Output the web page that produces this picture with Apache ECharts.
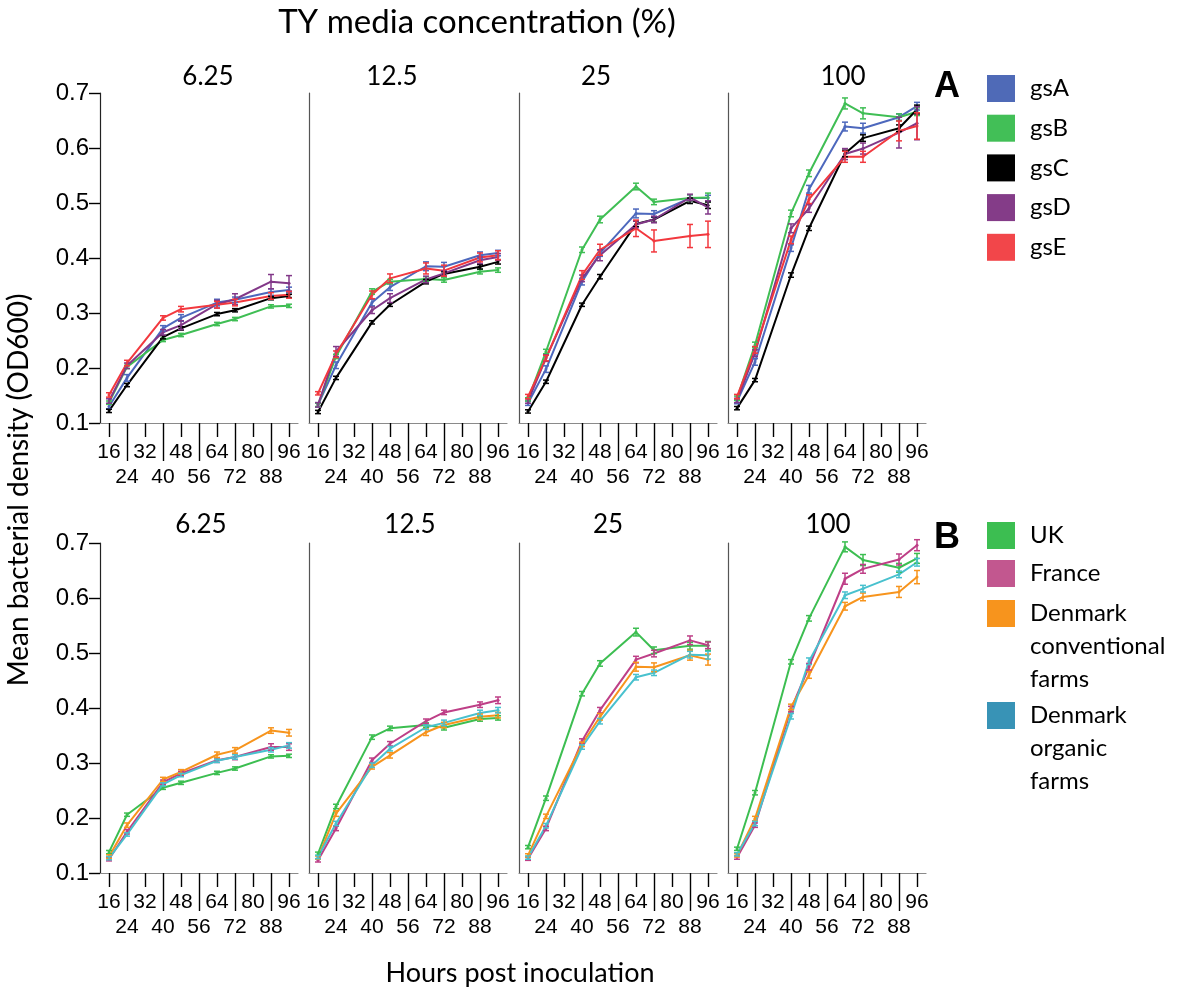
<!DOCTYPE html>
<html>
<head>
<meta charset="utf-8">
<script src="https://cdn.jsdelivr.net/npm/echarts@6/dist/echarts.min.js"></script>
<style>
  html, body { margin: 0; padding: 0; background: #fff; }
  #chart { width: 1179px; height: 992px; }
</style>
</head>
<body>
<div id="chart"></div>
<script>
// Sampling times (hours post inoculation) and axis tick values
const hours = [16, 24, 40, 48, 64, 72, 88, 96];
const xShortTicks = [16, 32, 48, 64, 80, 96];
const xLongTicks = [24, 40, 56, 72, 88];
const concentrations = ['6.25', '12.5', '25', '100'];

// Panel A: genotype groups; one row per TY concentration (6.25, 12.5, 25, 100)
const groupsA = ['gsA', 'gsB', 'gsC', 'gsD', 'gsE'];
const gsA_mean = [
  [0.130, 0.182, 0.272, 0.291, 0.319, 0.324, 0.338, 0.342],
  [0.133, 0.205, 0.319, 0.347, 0.385, 0.384, 0.405, 0.409],
  [0.136, 0.198, 0.357, 0.409, 0.481, 0.480, 0.509, 0.509],
  [0.139, 0.211, 0.418, 0.525, 0.639, 0.636, 0.656, 0.676]
];
const gsB_mean = [
  [0.137, 0.202, 0.251, 0.260, 0.280, 0.289, 0.312, 0.313],
  [0.133, 0.221, 0.339, 0.357, 0.362, 0.360, 0.375, 0.378],
  [0.143, 0.230, 0.415, 0.470, 0.530, 0.502, 0.509, 0.510],
  [0.145, 0.242, 0.481, 0.554, 0.681, 0.663, 0.656, 0.666]
];
const gsC_mean = [
  [0.122, 0.169, 0.256, 0.272, 0.298, 0.305, 0.327, 0.331],
  [0.120, 0.182, 0.283, 0.315, 0.357, 0.371, 0.384, 0.393],
  [0.121, 0.175, 0.315, 0.366, 0.462, 0.470, 0.504, 0.496],
  [0.127, 0.178, 0.369, 0.454, 0.590, 0.618, 0.636, 0.670]
];
const gsD_mean = [
  [0.140, 0.204, 0.265, 0.278, 0.316, 0.325, 0.357, 0.354],
  [0.133, 0.230, 0.305, 0.327, 0.361, 0.372, 0.396, 0.402],
  [0.140, 0.218, 0.363, 0.405, 0.461, 0.470, 0.510, 0.492],
  [0.141, 0.227, 0.454, 0.490, 0.589, 0.599, 0.628, 0.645]
];
const gsE_mean = [
  [0.151, 0.209, 0.291, 0.307, 0.315, 0.319, 0.331, 0.333],
  [0.154, 0.225, 0.333, 0.363, 0.381, 0.377, 0.401, 0.405],
  [0.148, 0.218, 0.369, 0.415, 0.454, 0.431, 0.440, 0.443],
  [0.148, 0.233, 0.433, 0.507, 0.584, 0.584, 0.631, 0.640]
];
const gsA_err = [
  [0.004, 0.006, 0.005, 0.006, 0.006, 0.005, 0.006, 0.005],
  [0.004, 0.006, 0.006, 0.006, 0.008, 0.008, 0.006, 0.005],
  [0.004, 0.006, 0.006, 0.006, 0.008, 0.006, 0.006, 0.005],
  [0.004, 0.006, 0.006, 0.007, 0.008, 0.009, 0.006, 0.007]
];
const gsB_err = [
  [0.003, 0.003, 0.003, 0.003, 0.003, 0.003, 0.003, 0.003],
  [0.003, 0.004, 0.005, 0.004, 0.004, 0.004, 0.004, 0.004],
  [0.003, 0.004, 0.005, 0.006, 0.006, 0.005, 0.006, 0.008],
  [0.004, 0.005, 0.006, 0.006, 0.010, 0.010, 0.006, 0.007]
];
const gsC_err = [
  [0.003, 0.003, 0.003, 0.003, 0.003, 0.003, 0.003, 0.003],
  [0.003, 0.003, 0.003, 0.003, 0.004, 0.004, 0.004, 0.004],
  [0.003, 0.003, 0.003, 0.004, 0.005, 0.005, 0.005, 0.006],
  [0.003, 0.003, 0.004, 0.004, 0.006, 0.006, 0.006, 0.008]
];
const gsD_err = [
  [0.004, 0.005, 0.005, 0.008, 0.007, 0.010, 0.013, 0.014],
  [0.004, 0.009, 0.006, 0.008, 0.006, 0.005, 0.006, 0.006],
  [0.004, 0.006, 0.006, 0.010, 0.006, 0.006, 0.006, 0.012],
  [0.004, 0.006, 0.008, 0.007, 0.010, 0.010, 0.028, 0.030]
];
const gsE_err = [
  [0.004, 0.005, 0.004, 0.005, 0.006, 0.006, 0.006, 0.006],
  [0.003, 0.006, 0.007, 0.008, 0.010, 0.010, 0.008, 0.008],
  [0.004, 0.005, 0.008, 0.010, 0.015, 0.020, 0.021, 0.024],
  [0.004, 0.006, 0.007, 0.008, 0.010, 0.010, 0.018, 0.024]
];

// Panel B: country / farm type groups; one row per TY concentration
const groupsB = ['UK', 'France', 'Denmark conventional farms', 'Denmark organic farms'];
const uk_mean = [
  [0.138, 0.206, 0.255, 0.264, 0.282, 0.290, 0.312, 0.313],
  [0.135, 0.221, 0.347, 0.363, 0.369, 0.364, 0.380, 0.382],
  [0.147, 0.236, 0.426, 0.481, 0.538, 0.505, 0.513, 0.513],
  [0.144, 0.246, 0.484, 0.563, 0.693, 0.669, 0.655, 0.672]
];
const france_mean = [
  [0.125, 0.175, 0.265, 0.281, 0.305, 0.311, 0.329, 0.329],
  [0.123, 0.181, 0.305, 0.335, 0.376, 0.392, 0.406, 0.414],
  [0.126, 0.181, 0.340, 0.396, 0.488, 0.499, 0.523, 0.514],
  [0.128, 0.187, 0.398, 0.475, 0.635, 0.653, 0.670, 0.696]
];
const dkConv_mean = [
  [0.130, 0.187, 0.270, 0.284, 0.315, 0.323, 0.359, 0.355],
  [0.128, 0.208, 0.293, 0.314, 0.356, 0.369, 0.384, 0.387],
  [0.132, 0.203, 0.334, 0.384, 0.475, 0.474, 0.496, 0.488],
  [0.132, 0.199, 0.402, 0.460, 0.585, 0.602, 0.611, 0.638]
];
const dkOrg_mean = [
  [0.127, 0.170, 0.261, 0.278, 0.304, 0.311, 0.324, 0.332],
  [0.129, 0.190, 0.296, 0.326, 0.365, 0.373, 0.391, 0.396],
  [0.128, 0.186, 0.329, 0.376, 0.456, 0.464, 0.497, 0.496],
  [0.134, 0.190, 0.385, 0.485, 0.605, 0.617, 0.643, 0.665]
];
const uk_err = [
  [0.003, 0.003, 0.003, 0.003, 0.003, 0.003, 0.003, 0.003],
  [0.003, 0.004, 0.004, 0.004, 0.004, 0.004, 0.004, 0.004],
  [0.003, 0.004, 0.004, 0.005, 0.007, 0.006, 0.006, 0.008],
  [0.003, 0.004, 0.004, 0.005, 0.009, 0.010, 0.008, 0.009]
];
const france_err = [
  [0.003, 0.004, 0.004, 0.004, 0.004, 0.005, 0.006, 0.006],
  [0.003, 0.004, 0.004, 0.004, 0.004, 0.004, 0.005, 0.006],
  [0.003, 0.004, 0.004, 0.005, 0.006, 0.006, 0.008, 0.006],
  [0.003, 0.004, 0.005, 0.006, 0.010, 0.008, 0.010, 0.010]
];
const dkConv_err = [
  [0.003, 0.004, 0.004, 0.004, 0.005, 0.005, 0.005, 0.006],
  [0.003, 0.005, 0.004, 0.005, 0.006, 0.005, 0.005, 0.005],
  [0.003, 0.004, 0.004, 0.006, 0.008, 0.008, 0.009, 0.010],
  [0.003, 0.004, 0.005, 0.006, 0.007, 0.007, 0.010, 0.012]
];
const dkOrg_err = [
  [0.003, 0.003, 0.003, 0.003, 0.003, 0.004, 0.004, 0.005],
  [0.003, 0.004, 0.004, 0.004, 0.004, 0.005, 0.005, 0.005],
  [0.003, 0.004, 0.004, 0.005, 0.005, 0.005, 0.006, 0.007],
  [0.003, 0.004, 0.005, 0.006, 0.006, 0.006, 0.006, 0.007]
];

// Series definitions per panel row
const rowA = [
  { name: 'gsA', mean: gsA_mean, err: gsA_err, line: '#4D68BD', swatch: '#4F6AB7' },
  { name: 'gsB', mean: gsB_mean, err: gsB_err, line: '#3FBE54', swatch: '#42BF57' },
  { name: 'gsC', mean: gsC_mean, err: gsC_err, line: '#000000', swatch: '#000000' },
  { name: 'gsD', mean: gsD_mean, err: gsD_err, line: '#823888', swatch: '#843C88' },
  { name: 'gsE', mean: gsE_mean, err: gsE_err, line: '#F2383E', swatch: '#F2464A' }
];
const rowB = [
  { name: groupsB[0], mean: uk_mean, err: uk_err, line: '#3CBE51', swatch: '#3CBE51' },
  { name: groupsB[1], mean: france_mean, err: france_err, line: '#BE3F87', swatch: '#C2578F' },
  { name: groupsB[2], mean: dkConv_mean, err: dkConv_err, line: '#F7941D', swatch: '#F7941D' },
  { name: groupsB[3], mean: dkOrg_mean, err: dkOrg_err, line: '#48C1CE', swatch: '#3893B6' }
];

// Layout
const panelLeft = [100, 309, 519, 728];
const panelWidth = 198;
const rowTop = [93, 543];
const panelHeight = 330;
const titleFont = 'Lato, sans-serif';
const tickFont = 'Liberation Sans';
const panelTitlePos = [
  [[208, 77], [392, 77], [596, 77], [843, 77]],
  [[201, 525], [410, 525], [608, 525], [828, 525]]
];

const grids = [], xAxes = [], yAxes = [], series = [];

function errorBars(color, p, means, errs) {
  return {
    type: 'custom',
    xAxisIndex: 2 * p,
    yAxisIndex: p,
    silent: true,
    z: 3,
    encode: { x: 0, y: 1 },
    data: hours.map((h, i) => [h, means[i], errs[i]]),
    renderItem(params, api) {
      const x = api.value(0), m = api.value(1), e = api.value(2);
      const hi = api.coord([x, m + e]);
      const lo = api.coord([x, m - e]);
      const cap = 3;
      const st = { stroke: color, lineWidth: 1.5 };
      return {
        type: 'group',
        children: [
          { type: 'line', shape: { x1: hi[0], y1: hi[1], x2: lo[0], y2: lo[1] }, style: st },
          { type: 'line', shape: { x1: hi[0] - cap, y1: hi[1], x2: hi[0] + cap, y2: hi[1] }, style: st },
          { type: 'line', shape: { x1: lo[0] - cap, y1: lo[1], x2: lo[0] + cap, y2: lo[1] }, style: st }
        ]
      };
    }
  };
}

const xLabelStyle = { fontFamily: tickFont, fontSize: 21, lineHeight: 25, color: '#000',
  showMinLabel: true, showMaxLabel: true, hideOverlap: false };

[rowA, rowB].forEach((groups, r) => {
  concentrations.forEach((c, ci) => {
    const p = r * 4 + ci;
    const first = ci === 0;
    grids.push({ left: panelLeft[ci], top: rowTop[r], width: panelWidth, height: panelHeight });
    // upper row of hour labels with short ticks
    xAxes.push({
      gridIndex: p, type: 'value', min: 12, max: 100, position: 'bottom',
      axisLine: { show: true, onZero: false, lineStyle: { color: '#8a8a8a', width: 1.2 } },
      axisTick: { show: true, customValues: xShortTicks, length: 14, lineStyle: { color: '#000', width: 1.4 } },
      axisLabel: Object.assign({ show: true, customValues: xShortTicks, margin: 17 }, xLabelStyle),
      splitLine: { show: false }
    });
    // lower row of hour labels with long separator ticks
    xAxes.push({
      gridIndex: p, type: 'value', min: 12, max: 100, position: 'bottom',
      axisLine: { show: false },
      axisTick: { show: true, customValues: xLongTicks, length: 38, lineStyle: { color: '#000', width: 1.4 } },
      axisLabel: Object.assign({ show: true, customValues: xLongTicks, margin: 42 }, xLabelStyle),
      splitLine: { show: false }
    });
    yAxes.push({
      gridIndex: p, type: 'value', min: 0.1, max: 0.7, interval: 0.1,
      axisLine: { show: true, onZero: false, lineStyle: { color: first ? '#222' : '#555', width: 1.2 } },
      axisTick: { show: first, length: 11, lineStyle: { color: '#000', width: 1.4 } },
      axisLabel: {
        show: first, margin: 11, fontFamily: tickFont, fontSize: 24, color: '#000',
        formatter: (v) => v.toFixed(1)
      },
      splitLine: { show: false }
    });
    groups.forEach((g) => {
      series.push({
        type: 'line', name: g.name, xAxisIndex: 2 * p, yAxisIndex: p,
        data: hours.map((h, i) => [h, g.mean[ci][i]]),
        symbol: 'circle', symbolSize: 3, showSymbol: true,
        lineStyle: { color: g.line, width: 2 },
        itemStyle: { color: g.line },
        z: 2
      });
      series.push(errorBars(g.line, p, g.mean[ci], g.err[ci]));
    });
  });
});

// Panel titles and shared axis titles
const graphics = [];
panelTitlePos.forEach((row) => {
  row.forEach((pos, ci) => {
    graphics.push({
      type: 'text', x: pos[0], y: pos[1],
      style: { text: concentrations[ci], align: 'center', verticalAlign: 'middle',
        font: '26px ' + titleFont, fill: '#000' }
    });
  });
});
graphics.push(
  { type: 'text', x: 477, y: 22,
    style: { text: 'TY media concentration (%)', align: 'center', verticalAlign: 'middle',
      font: '33px ' + titleFont, fill: '#000' } },
  { type: 'text', x: 19, y: 490, rotation: Math.PI / 2,
    style: { text: 'Mean bacterial density (OD600)', align: 'center', verticalAlign: 'middle',
      font: '28px ' + titleFont, fill: '#000' } },
  { type: 'text', x: 520, y: 973,
    style: { text: 'Hours post inoculation', align: 'center', verticalAlign: 'middle',
      font: '27px ' + titleFont, fill: '#000' } },
  { type: 'text', x: 947, y: 87,
    style: { text: 'A', align: 'center', verticalAlign: 'middle',
      font: 'bold 36px ' + tickFont, fill: '#000' } },
  { type: 'text', x: 947, y: 538,
    style: { text: 'B', align: 'center', verticalAlign: 'middle',
      font: 'bold 36px ' + tickFont, fill: '#000' } }
);

// Legends; multi-line names get two leading blank lines so their first line sits beside the swatch.
// Each text line is 33px tall, so a one-line item box starts 3px above its 27px swatch.
const legendText = { fontFamily: titleFont, fontSize: 24, lineHeight: 33, color: '#000', padding: [0, 0, 0, 10] };
const legendBase = {
  orient: 'vertical', icon: 'rect', itemWidth: 28, itemHeight: 27, padding: 0,
  selectedMode: false, left: 987, textStyle: legendText
};
const multiLine = (n) => '\n\n' + n.split(' ').join('\n');
const legends = [
  Object.assign({}, legendBase, {
    top: 75 - 3, itemGap: 6.7,
    data: rowA.map((g) => ({ name: g.name, itemStyle: { color: g.swatch, borderWidth: 0 } }))
  }),
  Object.assign({}, legendBase, {
    top: 522 - 3, itemGap: 5,
    data: rowB.slice(0, 2).map((g) => ({ name: g.name, itemStyle: { color: g.swatch, borderWidth: 0 } }))
  }),
  Object.assign({}, legendBase, {
    top: 600 - 69, formatter: multiLine,
    data: [{ name: rowB[2].name, itemStyle: { color: rowB[2].swatch, borderWidth: 0 } }]
  }),
  Object.assign({}, legendBase, {
    top: 702 - 69, formatter: multiLine,
    data: [{ name: rowB[3].name, itemStyle: { color: rowB[3].swatch, borderWidth: 0 } }]
  })
];

const chart = echarts.init(document.getElementById('chart'), null, { renderer: 'canvas' });
chart.setOption({
  animation: false,
  backgroundColor: '#fff',
  grid: grids,
  xAxis: xAxes,
  yAxis: yAxes,
  legend: legends,
  graphic: graphics,
  series: series
});
</script>
</body>
</html>
